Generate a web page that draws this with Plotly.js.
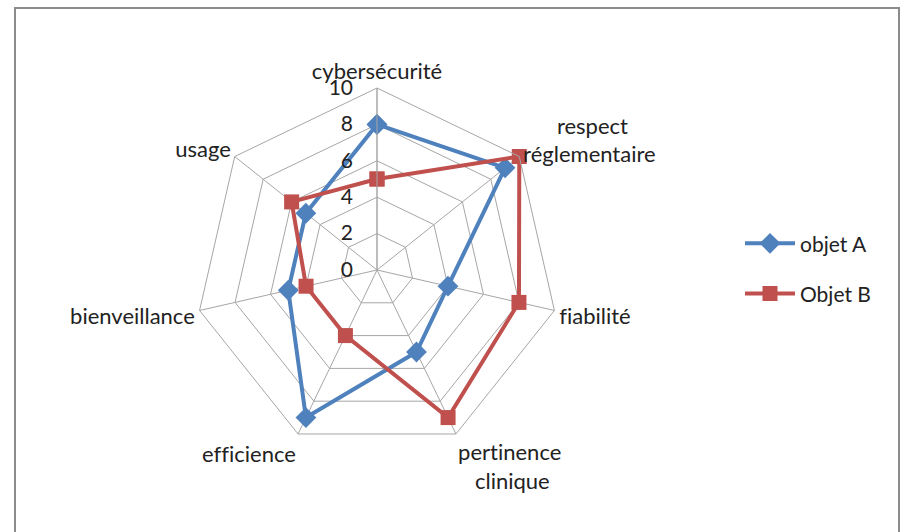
<!DOCTYPE html>
<html>
<head>
<meta charset="utf-8">
<script src="https://cdn.plot.ly/plotly-3.0.1.min.js"></script>
<style>html,body{margin:0;padding:0;background:#fff;}#chart{width:903px;height:532px;}
svg text, svg tspan{font-variant-ligatures:none !important;font-feature-settings:"liga" 0, "clig" 0 !important;}</style>
</head>
<body>
<div id="chart"></div>
<script>
const categories = ["cybersécurité", "\u00a0\u00a0\u00a0\u00a0\u00a0\u00a0respect<br>réglementaire", "fiabilité", "pertinence<br>\u00a0\u00a0\u00a0clinique", "efficience", "bienveillance", "usage"];
const objetA = [8, 9, 4, 5, 9, 5, 5];
const objetB = [5, 10, 8, 9, 4, 4, 6];
const seriesNames = ["objet A", "Objet B"];
const radialTicks = [0, 2, 4, 6, 8, 10];

const close = a => a.concat([a[0]]);
const font = "Lato, 'Open Sans', sans-serif";
const fs = 22;

const traces = [
  {
    type: "scatterpolar", mode: "lines+markers", name: seriesNames[0],
    r: close(objetA), theta: close(categories),
    line: {color: "#4F81BD", width: 4},
    marker: {symbol: "diamond", size: 16, color: "#4F81BD"},
    legendgroup: "a"
  },
  {
    type: "scatterpolar", mode: "lines+markers", name: seriesNames[1],
    r: close(objetB), theta: close(categories),
    line: {color: "#C0504D", width: 4},
    marker: {symbol: "square", size: 15, color: "#C0504D"},
    legendgroup: "b"
  }
];

const layout = {
  width: 903, height: 532,
  margin: {l: 0, r: 0, t: 0, b: 0},
  paper_bgcolor: "#fff",
  font: {family: font, size: fs, color: "#222"},
  showlegend: true,
  legend: {
    x: 740/903, y: 0.495, xanchor: "left", yanchor: "middle",
    font: {family: font, size: 21, color: "#222"},
    traceorder: "grouped", tracegroupgap: 20, itemwidth: 50
  },
  polar: {
    domain: {x: [195/903, 559/903], y: [80/532, 444/532]},
    gridshape: "linear",
    bgcolor: "rgba(0,0,0,0)",
    radialaxis: {
      range: [0, 10], tickvals: radialTicks,
      ticktext: radialTicks.map(v => String(v) + "\u00a0\u00a0\u00a0"),
      angle: 90, side: "counterclockwise", tickangle: 90,
      showline: true, linecolor: "#a6a6a6", linewidth: 1,
      gridcolor: "#a6a6a6", gridwidth: 1, ticks: "",
      tickfont: {family: font, size: 21, color: "#222"}
    },
    angularaxis: {
      rotation: 90, direction: "clockwise",
      showline: true, linecolor: "#a6a6a6", linewidth: 1,
      gridcolor: "#a6a6a6", gridwidth: 1, ticks: "",
      tickfont: {family: font, size: fs, color: "#222"}
    }
  },
  shapes: [{
    type: "rect", xref: "paper", yref: "paper",
    x0: 15/903, x1: 899/903, y0: -0.1, y1: (532-8)/532,
    line: {color: "#8c8c8c", width: 2}, fillcolor: "rgba(0,0,0,0)"
  }]
};

Plotly.newPlot("chart", traces, layout, {displayModeBar: false, staticPlot: true});
</script>
</body>
</html>
